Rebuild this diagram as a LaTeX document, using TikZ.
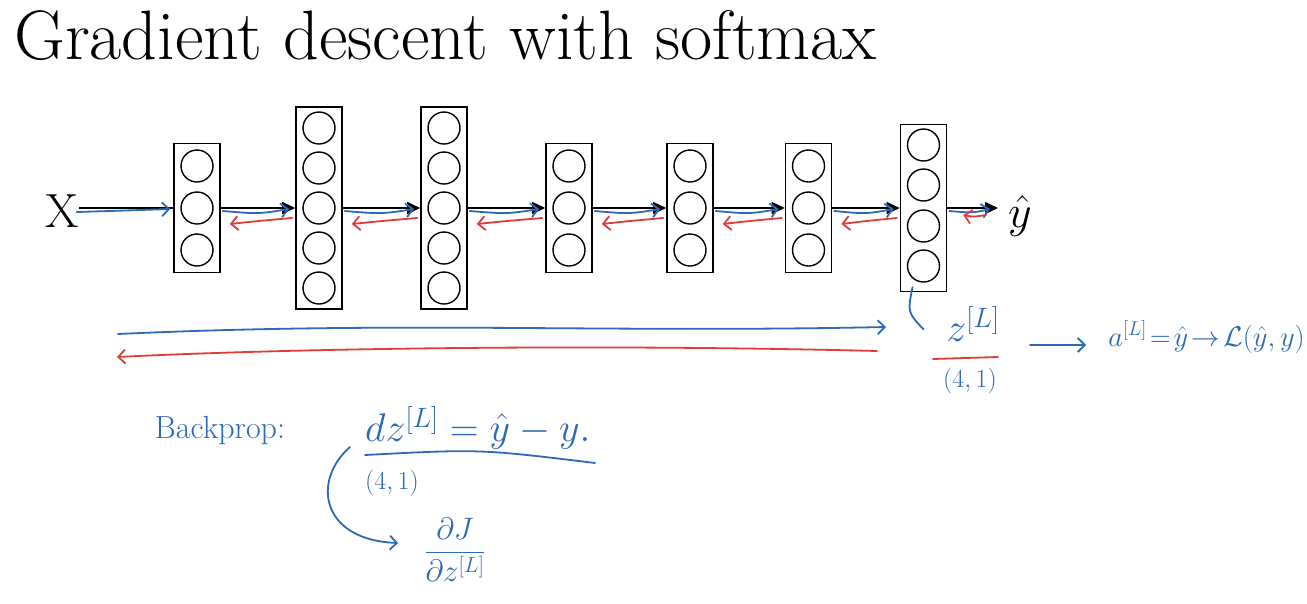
\RequirePackage{fix-cm}
\documentclass[tikz,border=0pt]{standalone}
\usepackage{amsmath}
\usetikzlibrary{arrows.meta,calc}
\definecolor{penblue}{RGB}{45,105,185}
\definecolor{penred}{RGB}{225,60,55}
\begin{document}
\begin{tikzpicture}[x=1pt,y=-1pt,
  layer/.style={draw,line width=1.6pt,minimum width=46pt,inner sep=0pt},
  neuron/.style={circle,draw,line width=1.4pt,minimum size=32pt,inner sep=0pt},
  fwd/.style={line width=1.3pt,-{Triangle[length=13pt,width=12pt]}},
  plainfwd/.style={line width=1.3pt},
  bluepen/.style={penblue,line width=1.8pt,line cap=round,line join=round},
  redpen/.style={penred,line width=1.8pt,line cap=round,line join=round},
  barb/.style={-{Straight Barb[length=7pt,width=14pt]}},
  hand/.style={text=penblue,inner sep=0pt}]
\fill[white] (0,0) rectangle (1307,603);
\useasboundingbox (0,0) rectangle (1307,603);

% title
\node[anchor=base west,inner sep=0pt,font=\fontsize{70}{76}\selectfont] (title) at (14,59) {Gradient descent with softmax};

% layers
\foreach \lname/\lx/\lh/\ys in {L1/197/129/{166,208,250},L2/319/202/{128,168,208,248,288},L3/444/202/{128,168,208,248,288},L4/569/129/{166,208,250},L5/690/129/{166,208,250},L6/808.5/129/{166,208,250},L7/923.5/167/{145,185,226,266}}{
  \node[layer,minimum height=\lh pt] (\lname) at (\lx,208) {};
  \foreach \cy [count=\k] in \ys {\node[neuron] (\lname n\k) at (\lx,\cy) {};}
}

\node[inner sep=0pt,font=\fontsize{48}{50}\selectfont] (X) at (62,211) {X};
\coordinate (out) at (998,208);
\node[inner sep=0pt,font=\fontsize{46}{50}\selectfont] (yhat) at (1020,216) {$\hat{y}$};

% black forward arrows
\draw[plainfwd] (X.east |- L1.west) -- (L1.west);
\foreach \a/\b in {L1/L2,L2/L3,L3/L4,L4/L5,L5/L6,L6/L7}
  \draw[fwd] (\a.east) -- (\b.west);
\draw[fwd] (L7.east) -- (out);

% hand-drawn forward (blue) and backward (red) arrows
\draw[bluepen,barb] ($(X.east |- L1.west)+(-2,4)$) .. controls ($(X.east)!0.5!(L1.west)+(0,1)$) .. ($(L1.west)+(-3,1)$);
\foreach \a/\b in {L1/L2,L2/L3,L3/L4,L4/L5,L5/L6,L6/L7}{
  \draw[bluepen,barb] ($(\a.east)+(2,3)$) .. controls ($(\a.east)!0.5!(\b.west)+(0,6)$) .. ($(\b.west)+(-6,1)$);
  \draw[redpen,barb] ($(\b.west)+(-3,10)$) .. controls ($(\a.east)!0.5!(\b.west)+(0,13)$) .. ($(\a.east)+(9,16)$);
}
\draw[bluepen,barb] ($(L7.east)+(2,3)$) .. controls ($(L7.east)!0.5!(out)+(0,5)$) .. ($(out)+(-8,1)$);
\draw[redpen,barb] ($(out)+(-12,7)$) .. controls ($(L7.east)!0.5!(out)+(0,9)$) .. ($(L7.east)+(16,7)$);

% long forward / backward arrows
\coordinate (fa) at (118,334);
\coordinate (fb) at (886,327);
\draw[bluepen,barb] (fa) .. controls (400,321) and (600,333) .. (fb);
\coordinate (ba) at (877,351);
\coordinate (bb) at (117,357);
\draw[redpen,barb] (ba) .. controls (600,344) and (300,348) .. (bb);

% z^[L] annotation
\node[hand,font=\fontsize{40}{44}\selectfont] (zL) at (973,324) {$z^{[L]}$};
\node[hand,font=\fontsize{26}{28}\selectfont] (z41) at (970,381) {$(4,1)$};
\draw[bluepen] ($(L7.south)+(-11,-5)$) .. controls ($(L7.south)+(-16,20)$) .. ($(L7.south)+(0,37)$);
\draw[redpen] (933,359) -- (998,357);
\node[hand,anchor=east,font=\fontsize{28.5}{32}\selectfont] (aL) at (1305,337) {$a^{[L]}\!=\!\hat{y}\!\rightarrow\!\mathcal{L}(\hat{y},y)$};
\draw[bluepen,barb] (1030,345) -- (1086,345);

% backprop
\node[hand,font=\fontsize{32}{34}\selectfont] (bp) at (220,431) {Backprop:};
\node[hand,anchor=west,font=\fontsize{40}{44}\selectfont] (dz) at (365,428) {$dz^{[L]} = \hat{y} - y.$};
\draw[bluepen] (365,455) .. controls (480,449) .. (595,463);
\node[hand,font=\fontsize{26}{28}\selectfont] (d41) at (392,483) {$(4,1)$};
\node[hand,font=\fontsize{31}{33}\selectfont] (dJ) at (455,550) {$\dfrac{\partial J}{\partial z^{[L]}}$};
\draw[bluepen,barb] (350,447) .. controls (312,480) and (320,540) .. ($(dJ.west)+(-26,-7)$);
\end{tikzpicture}
\end{document}
